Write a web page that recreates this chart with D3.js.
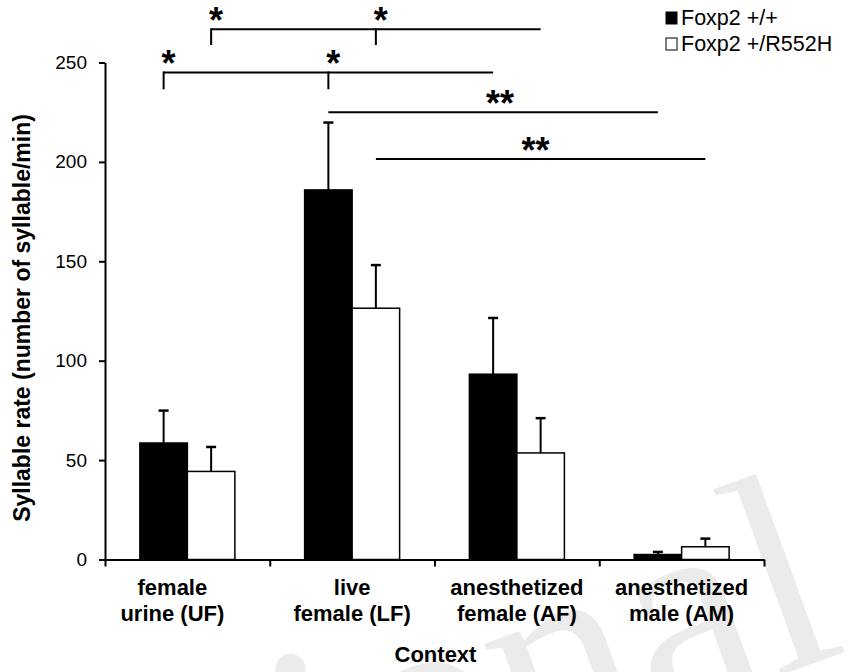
<!DOCTYPE html>
<html>
<head>
<meta charset="utf-8">
<script src="https://cdn.jsdelivr.net/npm/d3@7"></script>
<style>
  body { margin: 0; background: #fff; }
  svg { display: block; font-family: "Liberation Sans", Arial, sans-serif; }
</style>
</head>
<body>
<svg id="chart" width="848" height="672"></svg>
<script>
// chart values
var categoryLines = [["female", "urine (UF)"], ["live", "female (LF)"],
                     ["anesthetized", "female (AF)"], ["anesthetized", "male (AM)"]];
var seriesNames = ["Foxp2 +/+", "Foxp2 +/R552H"];
var seriesFills = ["#000", "#fff"];
var wildType = [58.6, 185.9, 93.2, 2.5];
var wildTypeErr = [16.3, 33.9, 28.3, 1.3];
var mutant = [44.3, 126.4, 53.6, 6.4];
var mutantErr = [12.3, 21.7, 17.5, 4.1];
var yTicks = [0, 50, 100, 150, 200, 250];

// significance marks: [category, series] ends, level in y units
var sigFrom = [[0, 1], [0, 0], [1, 0], [1, 1]];
var sigTo = [[2, 1], [2, 0], [3, 0], [3, 1]];
var sigMid = [[1, 1], [1, 0], null, null];
var sigLevel = [266.7, 245, 225, 201.5];
var sigDrop = [258.8, 236.5, null, null];
var sigStars = ["*", "*", "**", "**"];

(function() {
var svg = d3.select("#chart");
var plotLeft = 105, plotRight = 764, plotTop = 62.5, plotBottom = 559.5;

var x0 = d3.scaleBand().domain(d3.range(categoryLines.length)).range([plotLeft, plotRight]);
var x1 = d3.scaleBand().domain(d3.range(seriesNames.length))
    .range([0, x0.bandwidth()]).paddingOuter(0.734);
var y = d3.scaleLinear().domain([0, 250]).range([plotBottom, plotTop]);

var cx = function(p) { return x0(p[0]) + x1(p[1]) + x1.bandwidth() / 2; };

// faint watermark behind everything
svg.append("text")
    .attr("transform", "translate(850,650) rotate(-20)")
    .attr("text-anchor", "end")
    .style("font-family", "'Liberation Serif', 'Times New Roman', serif")
    .style("font-size", "285px")
    .style("fill", "#ebebeb")
    .text("Provisional");

var rows = [];
categoryLines.forEach(function(c, i) {
    rows.push({c: i, s: 0, v: wildType[i], e: wildTypeErr[i]});
    rows.push({c: i, s: 1, v: mutant[i], e: mutantErr[i]});
});

// error bars (upper only)
var err = svg.append("g").attr("stroke", "#000");
err.selectAll("line.stem").data(rows).enter().append("line")
    .attr("x1", function(d) { return cx([d.c, d.s]); })
    .attr("x2", function(d) { return cx([d.c, d.s]); })
    .attr("y1", function(d) { return y(d.v); })
    .attr("y2", function(d) { return y(d.v + d.e); })
    .attr("stroke-width", 2);
err.selectAll("line.cap").data(rows).enter().append("line")
    .attr("x1", function(d) { return cx([d.c, d.s]) - 5; })
    .attr("x2", function(d) { return cx([d.c, d.s]) + 5; })
    .attr("y1", function(d) { return y(d.v + d.e); })
    .attr("y2", function(d) { return y(d.v + d.e); })
    .attr("stroke-width", 2.5);

svg.append("g").selectAll("rect").data(rows).enter().append("rect")
    .attr("x", function(d) { return x0(d.c) + x1(d.s); })
    .attr("width", x1.bandwidth())
    .attr("y", function(d) { return y(d.v); })
    .attr("height", function(d) { return y(0) - y(d.v); })
    .attr("fill", function(d) { return seriesFills[d.s]; })
    .attr("stroke", "#000")
    .attr("stroke-width", 1.5);

// y axis
var yAxis = svg.append("g").attr("transform", "translate(" + plotLeft + ",0)")
    .call(d3.axisLeft(y).tickValues(yTicks).tickSize(6).tickSizeOuter(0).tickPadding(12));
yAxis.selectAll("line, path").attr("stroke", "#000").attr("stroke-width", 2);
yAxis.selectAll("text").style("font-size", "19px").attr("fill", "#000")
    .style("font-family", "'Liberation Sans', Arial, sans-serif");

// x axis with ticks at category boundaries
var xb = d3.scaleLinear().domain([0, categoryLines.length]).range([plotLeft, plotRight]);
var xAxis = svg.append("g").attr("transform", "translate(0," + plotBottom + ")")
    .call(d3.axisBottom(xb).tickValues(d3.range(categoryLines.length + 1))
        .tickFormat("").tickSize(7).tickSizeOuter(0));
xAxis.selectAll("line, path").attr("stroke", "#000").attr("stroke-width", 2);

// category labels
var cat = svg.append("g").selectAll("text").data(categoryLines).enter().append("text")
    .attr("x", function(d, i) { return x0(i) + x0.bandwidth() / 2 - (i === 0 ? 15 : 0); })
    .attr("y", 595)
    .attr("text-anchor", "middle")
    .style("font-weight", "bold")
    .style("font-size", "22px");
cat.selectAll("tspan").data(function(d) { return d; }).enter().append("tspan")
    .attr("x", function() { return d3.select(this.parentNode).attr("x"); })
    .attr("dy", function(d, i) { return i ? 26 : 0; })
    .text(function(d) { return d; });

svg.append("text").attr("x", (plotLeft + plotRight) / 2 + 1).attr("y", 662)
    .attr("text-anchor", "middle").style("font-weight", "bold").style("font-size", "22px")
    .text("Context");

svg.append("text")
    .attr("transform", "translate(30," + ((plotTop + plotBottom) / 2 + 7) + ") rotate(-90)")
    .attr("text-anchor", "middle").style("font-weight", "bold").style("font-size", "23px")
    .text("Syllable rate (number of syllable/min)");

// significance lines and stars
var sig = svg.append("g");
sigLevel.forEach(function(lv, i) {
    var yl = y(lv), xa = cx(sigFrom[i]), xz = cx(sigTo[i]);
    sig.append("line").attr("x1", xa).attr("x2", xz).attr("y1", yl).attr("y2", yl)
        .attr("stroke", "#000").attr("stroke-width", 2);
    var starX = [];
    if (sigDrop[i] !== null) {
        [xa, cx(sigMid[i])].forEach(function(xx) {
            sig.append("line").attr("x1", xx).attr("x2", xx)
                .attr("y1", yl - 1).attr("y2", y(sigDrop[i]))
                .attr("stroke", "#000").attr("stroke-width", 2);
            starX.push(xx + 5);
        });
    } else {
        starX.push((xa + xz) / 2 + (i === 2 ? 7 : -5));
    }
    starX.forEach(function(sx) {
        sig.append("text").attr("x", sx).attr("y", yl + 4)
            .attr("text-anchor", "middle")
            .style("font-weight", "bold").style("font-size", "36px")
            .text(sigStars[i]);
    });
});

// legend
var legend = svg.append("g").selectAll("g").data(seriesNames).enter().append("g")
    .attr("transform", function(d, i) { return "translate(666," + (12 + i * 26) + ")"; });
legend.append("rect").attr("width", 11).attr("height", 12)
    .attr("fill", function(d, i) { return seriesFills[i]; })
    .attr("stroke", "#000").attr("stroke-width", 1);
legend.append("text").attr("x", 15).attr("y", 13)
    .style("font-size", "21.5px").text(function(d) { return d; });
})();
</script>
</body>
</html>
